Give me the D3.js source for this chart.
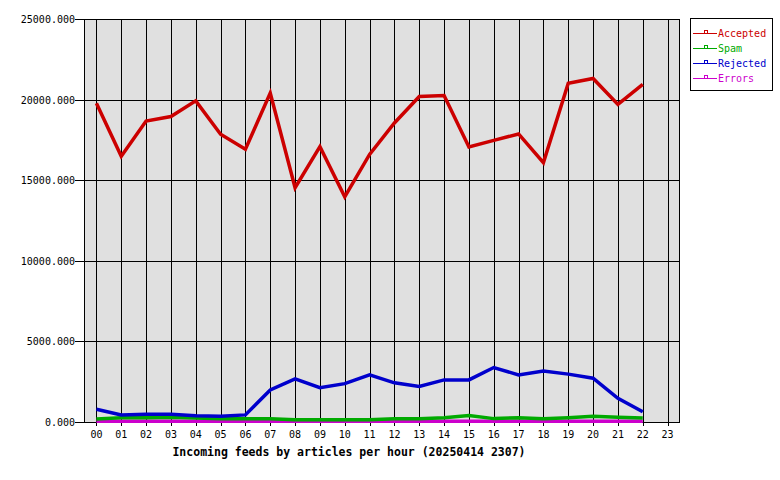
<!DOCTYPE html>
<html><head><meta charset="utf-8">
<script src="https://cdn.jsdelivr.net/npm/d3@7"></script>
<style>body{margin:0;background:#fff}</style>
</head><body><svg id="c" width="780" height="480"></svg>
<script>
const hours = ["00","01","02","03","04","05","06","07","08","09","10","11","12","13","14","15","16","17","18","19","20","21","22","23"];
const accepted = [19780,16480,18670,18950,19920,17850,16920,20400,14530,17080,13970,16600,18550,20190,20250,17060,17470,17870,16090,21020,21310,19700,20940];
const spam     = [190,270,270,300,250,200,200,200,140,140,140,140,200,200,270,410,210,270,200,270,350,300,250];
const rejected = [790,440,480,480,390,350,440,1990,2670,2130,2380,2920,2430,2200,2610,2610,3380,2920,3170,2970,2720,1470,640];
const errors   = [40,40,40,40,40,40,40,40,40,40,40,40,40,40,40,40,40,40,40,40,40,40,40];
const yTicks = [0,5000,10000,15000,20000,25000];
const seriesNames = ["Accepted","Spam","Rejected","Errors"];
const seriesColors = ["#cc0000","#00aa00","#0000cc","#cc00cc"];
const seriesData = [accepted, spam, rejected, errors];

const svg = d3.select("#c");
const L=84, R=680, T=19, B=422;
const x = d3.scaleLinear().domain([-0.5,23.5]).range([L,R]);
const y = d3.scaleLinear().domain([0,25000]).range([B,T]);
const mono = "'DejaVu Sans Mono', 'Liberation Mono', monospace";

svg.append("rect").attr("x",L).attr("y",T).attr("width",R-L).attr("height",B-T).attr("fill","#e0e0e0");

// grid
const g = svg.append("g").attr("shape-rendering","crispEdges");
g.selectAll(".vg").data(hours).join("line")
  .attr("x1",(d,i)=>Math.round(x(i))+0.5).attr("x2",(d,i)=>Math.round(x(i))+0.5)
  .attr("y1",T).attr("y2",B+4).attr("stroke","#000");
g.selectAll(".hg").data(yTicks).join("line")
  .attr("x1",L-9).attr("x2",R).attr("y1",d=>Math.round(y(d))+0.5).attr("y2",d=>Math.round(y(d))+0.5)
  .attr("stroke","#000");
g.append("rect").attr("x",L+0.5).attr("y",T+0.5).attr("width",R-L-1).attr("height",B-T).attr("fill","none").attr("stroke","#000");

// axes labels
svg.append("g").selectAll("text").data(yTicks).join("text")
  .attr("x",75).attr("y",d=>y(d)+4).attr("text-anchor","end")
  .attr("font-family",mono).attr("font-size","10px").attr("fill","#000")
  .text(d=>d3.format(".3f")(d));
svg.append("g").selectAll("text").data(hours).join("text")
  .attr("x",(d,i)=>x(i)).attr("y",438).attr("text-anchor","middle")
  .attr("font-family",mono).attr("font-size","10px").attr("fill","#000")
  .text(d=>d);
svg.append("text").attr("x",349).attr("y",456).attr("text-anchor","middle")
  .attr("font-family",mono).attr("font-size","11.5px").attr("font-weight","bold").attr("fill","#000")
  .text("Incoming feeds by articles per hour (20250414 2307)");

// lines (drawn bottom-most last so order matches)
const line = d3.line().x((d,i)=>x(i)).y(d=>y(d));
[3,1,2,0].forEach(k=>{
  svg.append("path").datum(seriesData[k]).attr("d",line)
    .attr("fill","none").attr("stroke",seriesColors[k]).attr("stroke-width",3.5)
    .attr("stroke-linejoin","miter");
});

// legend
const lg = svg.append("g").attr("shape-rendering","crispEdges");
lg.append("rect").attr("x",690.5).attr("y",18.5).attr("width",82).attr("height",72).attr("fill","#fff").attr("stroke","#000");
seriesNames.forEach((n,i)=>{
  const yy = 33 + i*15;
  lg.append("line").attr("x1",693).attr("x2",717).attr("y1",yy+0.5).attr("y2",yy+0.5).attr("stroke",seriesColors[i]);
  lg.append("rect").attr("x",704.5).attr("y",yy-2.5).attr("width",3).attr("height",3).attr("fill","none").attr("stroke",seriesColors[i]);
  svg.append("text").attr("x",718).attr("y",yy+4).attr("font-family",mono).attr("font-size","10px")
    .attr("fill",seriesColors[i]).text(n);
});
</script></body></html>
